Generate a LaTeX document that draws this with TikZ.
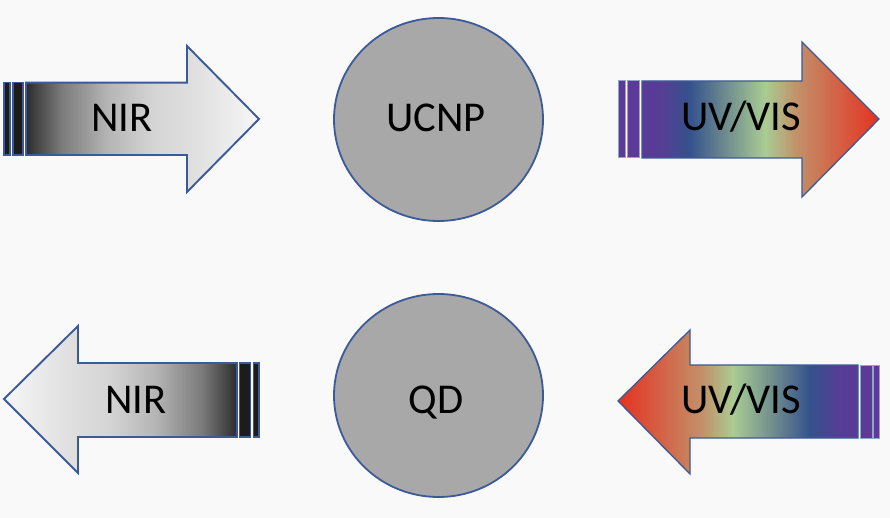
\documentclass[tikz,border=0pt]{standalone}
\usepackage{fontspec}
\setmainfont{Carlito}
\usetikzlibrary{shapes.geometric}
\definecolor{bg}{HTML}{F9F9FA}
\definecolor{edge}{HTML}{3D5A98}
\definecolor{disc}{HTML}{A8A8A8}
\definecolor{ga}{HTML}{2C2C2C}
\definecolor{gb}{HTML}{7A7A7A}
\definecolor{gc}{HTML}{B5B5B5}
\definecolor{gd}{HTML}{D5D5D5}
\definecolor{ge}{HTML}{DEDEDE}
\definecolor{gf}{HTML}{F6F6F6}
\definecolor{ua}{HTML}{5A3A98}
\definecolor{ub}{HTML}{563D96}
\definecolor{uc}{HTML}{34528C}
\definecolor{ud}{HTML}{6E8B8E}
\definecolor{ue}{HTML}{A9CC93}
\definecolor{uf}{HTML}{C2916A}
\definecolor{ug}{HTML}{D65A40}
\definecolor{uh}{HTML}{E4321F}
\definecolor{stripeg}{HTML}{1C1C1C}
\definecolor{stripeu}{HTML}{5B3A98}
% bounding box of path maps to 25bp..75bp
\pgfdeclarehorizontalshading{nirR}{100bp}{color(0bp)=(ga); color(25bp)=(ga); color(32.5bp)=(gb); color(42.5bp)=(gc); color(52.5bp)=(gd); color(60bp)=(ge); color(75bp)=(gf); color(100bp)=(gf)}
\pgfdeclarehorizontalshading{nirL}{100bp}{color(0bp)=(gf); color(25bp)=(gf); color(40bp)=(ge); color(47.5bp)=(gd); color(57.5bp)=(gc); color(67.5bp)=(gb); color(75bp)=(ga); color(100bp)=(ga)}
\pgfdeclarehorizontalshading{uvR}{100bp}{color(0bp)=(ua); color(25bp)=(ua); color(29bp)=(ub); color(35bp)=(uc); color(42.5bp)=(ud); color(51bp)=(ue); color(57.5bp)=(uf); color(67.5bp)=(ug); color(75bp)=(uh); color(100bp)=(uh)}
\pgfdeclarehorizontalshading{uvL}{100bp}{color(0bp)=(uh); color(25bp)=(uh); color(32.5bp)=(ug); color(42.5bp)=(uf); color(49bp)=(ue); color(57.5bp)=(ud); color(65bp)=(uc); color(71bp)=(ub); color(75bp)=(ua); color(100bp)=(ua)}
\tikzset{
  outline/.style={draw=edge, line width=1.9pt, line join=miter},
  stripebox/.style={draw=edge, line width=1.6pt},
  uvstripe/.style={draw=edge!55!white, line width=1pt, fill=stripeu},
  disk/.style={ellipse, draw=edge, line width=1.8pt, fill=disc, minimum width=209pt, minimum height=203pt, inner sep=0pt},
  label/.style={font=\fontsize{42.5}{48}\selectfont, text=black, anchor=base, inner sep=0pt}
}
\begin{document}
\begin{tikzpicture}[x=1pt, y=-1pt]
\fill[bg] (0,0) rectangle (890,518);
\useasboundingbox (0,0) rectangle (890,518);
% top NIR arrow (right)
\shade[shading=nirR, outline] (26,82.7) -- (187,82.7) -- (187,46) -- (259,119) -- (187,192) -- (187,155) -- (26,155) -- cycle;
\filldraw[stripebox, fill=stripeg] (4,82.7) rectangle (10,155);
\filldraw[stripebox, fill=stripeg] (13,82.7) rectangle (23,155);
\node[label] (nir1) at (122,132) {NIR};
% UCNP
\node[disk] (ucnp) at (438.5,119.5) {};
\node[label] (ucnpt) at (436,132) {UCNP};
% top UV/VIS arrow (right)
\shade[shading=uvR, outline, line width=1.3pt] (642,81) -- (802,81) -- (802,42) -- (879,119) -- (802,197) -- (802,158) -- (642,158) -- cycle;
\filldraw[uvstripe] (618,81) rectangle (625,158);
\filldraw[uvstripe] (627.5,81) rectangle (639.5,158);
\node[label] (uv1) at (741,131) {UV/VIS};
% bottom NIR arrow (left)
\shade[shading=nirL, outline] (4,399) -- (78,326) -- (78,363) -- (237,363) -- (237,437) -- (78,437) -- (78,473) -- cycle;
\filldraw[stripebox, fill=stripeg] (239.5,363) rectangle (250.5,437);
\filldraw[stripebox, fill=stripeg] (253.5,363) rectangle (259,437);
\node[label] (nir2) at (136,413) {NIR};
% QD
\node[disk] (qd) at (438.5,395.5) {};
\node[label] (qdt) at (436,413) {QD};
% bottom UV/VIS arrow (left)
\shade[shading=uvL, outline, line width=1.3pt] (618,401) -- (690,330) -- (690,365) -- (858,365) -- (858,438) -- (690,438) -- (690,474) -- cycle;
\filldraw[uvstripe] (860,365) rectangle (872,438);
\filldraw[uvstripe] (873.5,365) rectangle (879,438);
\node[label] (uv2) at (741,413) {UV/VIS};
\end{tikzpicture}
\end{document}
